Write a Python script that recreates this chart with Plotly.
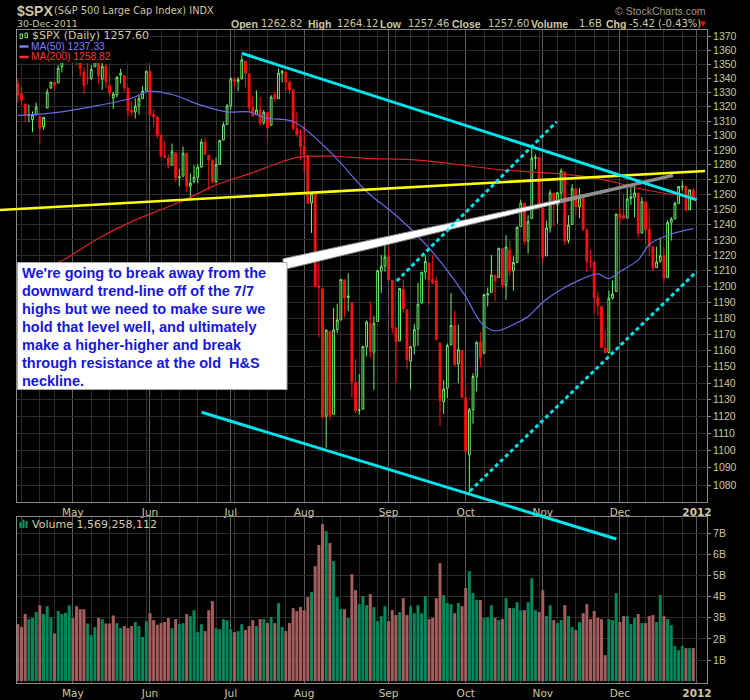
import math
from datetime import date
import plotly.graph_objects as go

# ---------------------------------------------------------------- data
trading_days = {
    "2011-04": [8, 11, 12, 13, 14, 15, 18, 19, 20, 21, 25, 26, 27, 28, 29],
    "2011-05": [2, 3, 4, 5, 6, 9, 10, 11, 12, 13, 16, 17, 18, 19, 20, 23, 24, 25, 26, 27, 31],
    "2011-06": [1, 2, 3, 6, 7, 8, 9, 10, 13, 14, 15, 16, 17, 20, 21, 22, 23, 24, 27, 28, 29, 30],
    "2011-07": [1, 5, 6, 7, 8, 11, 12, 13, 14, 15, 18, 19, 20, 21, 22, 25, 26, 27, 28, 29],
    "2011-08": [1, 2, 3, 4, 5, 8, 9, 10, 11, 12, 15, 16, 17, 18, 19, 22, 23, 24, 25, 26, 29, 30, 31],
    "2011-09": [1, 2, 6, 7, 8, 9, 12, 13, 14, 15, 16, 19, 20, 21, 22, 23, 26, 27, 28, 29, 30],
    "2011-10": [3, 4, 5, 6, 7, 10, 11, 12, 13, 14, 17, 18, 19, 20, 21, 24, 25, 26, 27, 28, 31],
    "2011-11": [1, 2, 3, 4, 7, 8, 9, 10, 11, 14, 15, 16, 17, 18, 21, 22, 23, 25, 28, 29, 30],
    "2011-12": [1, 2, 5, 6, 7, 8, 9, 12, 13, 14, 15, 16, 19, 20, 21, 22, 23, 27, 28, 29, 30],
}

open_ = [
    1336.16, 1329.01, 1321.96, 1314.03, 1311.13, 1314.54, 1313.35, 1305.99, 1319.12, 1333.23, 1337.14, 1336.75, 1348.43, 1353.86, 1360.14,
    1365.21, 1359.76, 1355.90, 1344.16, 1340.24, 1340.20, 1348.34, 1354.51, 1339.39, 1348.69, 1334.77, 1326.10, 1328.54, 1342.40, 1342.00, 1333.07, 1317.70, 1316.36, 1320.64, 1325.69, 1331.10,
    1345.20, 1314.55, 1312.94, 1300.26, 1286.31, 1284.63, 1279.63, 1288.26, 1271.31, 1272.22, 1287.87, 1265.53, 1268.58, 1271.50, 1278.40, 1295.48, 1286.60, 1283.04, 1268.44, 1280.21, 1296.85, 1307.64,
    1320.64, 1339.59, 1337.56, 1339.62, 1352.39, 1343.31, 1319.61, 1314.45, 1317.74, 1308.87, 1315.94, 1307.07, 1328.66, 1325.65, 1343.80, 1344.32, 1337.39, 1331.91, 1304.84, 1300.12,
    1292.59, 1286.56, 1254.25, 1260.23, 1200.28, 1198.48, 1120.23, 1171.77, 1121.30, 1172.87, 1178.86, 1204.22, 1192.89, 1189.62, 1140.47, 1123.55, 1124.36, 1162.16, 1176.69, 1158.85, 1177.91, 1209.76, 1213.00,
    1219.12, 1203.90, 1173.97, 1165.85, 1197.98, 1185.37, 1153.50, 1162.59, 1173.32, 1189.44, 1209.21, 1214.99, 1204.50, 1203.63, 1164.55, 1128.82, 1136.91, 1163.32, 1175.39, 1151.74, 1159.93,
    1131.21, 1097.42, 1124.03, 1144.11, 1165.03, 1158.15, 1194.60, 1196.19, 1206.96, 1205.65, 1224.47, 1200.75, 1223.46, 1209.92, 1215.39, 1238.72, 1254.19, 1229.17, 1243.97, 1284.39, 1284.96,
    1251.00, 1219.62, 1238.25, 1260.82, 1253.21, 1261.12, 1275.18, 1229.59, 1240.12, 1263.85, 1251.70, 1257.81, 1236.56, 1216.19, 1215.62, 1192.98, 1187.48, 1161.41, 1158.67, 1192.56, 1196.72,
    1246.91, 1246.03, 1244.33, 1257.19, 1258.14, 1260.87, 1234.48, 1255.05, 1236.83, 1225.73, 1212.12, 1216.09, 1219.74, 1205.72, 1241.25, 1243.72, 1254.00, 1265.02, 1265.38, 1249.75, 1262.82,
]
high_ = [
    1339.46, 1333.77, 1321.96, 1321.35, 1316.79, 1322.88, 1313.35, 1312.70, 1332.66, 1337.49, 1337.55, 1349.55, 1357.49, 1361.71, 1364.56,
    1370.58, 1360.84, 1355.90, 1348.00, 1354.36, 1349.44, 1359.44, 1354.51, 1351.05, 1350.47, 1343.33, 1330.42, 1341.82, 1346.82, 1342.00, 1333.07, 1323.72, 1325.86, 1328.51, 1334.62, 1345.20,
    1345.20, 1318.03, 1312.94, 1300.26, 1296.22, 1287.04, 1294.54, 1288.26, 1277.04, 1292.50, 1287.87, 1274.11, 1279.82, 1280.42, 1297.62, 1298.61, 1286.60, 1283.93, 1284.91, 1296.80, 1309.21, 1321.97,
    1341.01, 1340.89, 1340.94, 1356.48, 1352.39, 1343.31, 1327.17, 1331.48, 1326.88, 1317.70, 1315.94, 1328.14, 1330.43, 1347.00, 1346.10, 1344.32, 1338.51, 1331.91, 1316.32, 1304.16,
    1307.38, 1286.56, 1261.20, 1260.23, 1218.11, 1198.48, 1172.88, 1171.77, 1186.29, 1189.04, 1204.49, 1204.22, 1208.47, 1189.62, 1154.54, 1145.49, 1162.35, 1178.56, 1190.68, 1181.23, 1210.28, 1220.10, 1230.71,
    1229.29, 1203.90, 1173.97, 1198.62, 1204.40, 1185.37, 1162.52, 1176.41, 1202.38, 1209.11, 1220.06, 1214.99, 1220.39, 1206.30, 1164.55, 1141.72, 1164.19, 1195.86, 1184.71, 1175.87, 1159.93,
    1138.99, 1125.12, 1146.07, 1165.55, 1171.40, 1194.91, 1199.24, 1220.25, 1207.46, 1224.61, 1224.47, 1233.10, 1229.64, 1219.36, 1239.03, 1256.55, 1254.19, 1246.28, 1292.66, 1287.08, 1284.96,
    1251.00, 1242.48, 1263.21, 1260.82, 1261.70, 1277.55, 1275.18, 1246.22, 1266.98, 1263.85, 1264.25, 1259.61, 1237.73, 1223.51, 1215.62, 1196.81, 1187.48, 1172.66, 1197.35, 1203.67, 1247.11,
    1251.09, 1260.08, 1266.73, 1266.03, 1267.06, 1260.87, 1258.25, 1255.05, 1249.86, 1225.73, 1225.60, 1231.04, 1224.57, 1242.82, 1245.09, 1255.22, 1265.42, 1269.37, 1265.85, 1263.54, 1264.12,
]
low_ = [
    1322.94, 1321.06, 1309.51, 1309.19, 1302.42, 1313.68, 1294.70, 1303.97, 1319.12, 1332.83, 1331.47, 1336.75, 1344.25, 1353.60, 1358.69,
    1358.59, 1349.52, 1341.50, 1329.17, 1335.58, 1338.64, 1348.34, 1336.36, 1332.03, 1333.36, 1327.32, 1318.51, 1326.59, 1336.36, 1330.67, 1312.88, 1313.87, 1311.80, 1314.41, 1325.69, 1331.10,
    1313.71, 1305.61, 1297.90, 1284.72, 1284.74, 1277.42, 1279.63, 1268.28, 1265.64, 1272.22, 1261.90, 1258.07, 1267.40, 1267.56, 1278.40, 1286.79, 1262.87, 1267.24, 1267.53, 1280.21, 1296.85, 1307.61,
    1318.18, 1334.30, 1330.92, 1339.62, 1333.71, 1316.42, 1313.33, 1314.45, 1306.51, 1307.35, 1295.92, 1307.07, 1323.65, 1325.65, 1336.95, 1331.09, 1329.10, 1303.49, 1299.16, 1282.86,
    1274.73, 1254.03, 1234.56, 1199.54, 1168.09, 1119.28, 1101.54, 1118.01, 1121.30, 1170.74, 1178.86, 1180.53, 1184.36, 1131.03, 1122.05, 1121.09, 1124.36, 1156.30, 1155.47, 1135.91, 1177.91, 1195.77, 1209.35,
    1203.85, 1170.56, 1140.13, 1165.85, 1183.34, 1148.37, 1136.07, 1157.44, 1162.73, 1189.44, 1204.46, 1188.36, 1201.29, 1166.21, 1114.22, 1121.36, 1131.07, 1163.32, 1150.40, 1139.93, 1131.34,
    1098.92, 1074.77, 1115.68, 1134.95, 1150.26, 1158.15, 1187.30, 1196.19, 1190.58, 1205.65, 1198.55, 1191.48, 1206.31, 1197.34, 1215.39, 1238.72, 1226.79, 1221.06, 1243.97, 1277.01, 1253.16,
    1215.42, 1219.62, 1234.81, 1238.92, 1240.75, 1254.99, 1226.64, 1227.70, 1240.12, 1246.68, 1244.34, 1235.67, 1209.43, 1211.36, 1183.16, 1181.65, 1161.79, 1158.66, 1158.67, 1191.80, 1196.72,
    1239.73, 1243.35, 1244.33, 1253.03, 1244.80, 1231.47, 1234.48, 1227.25, 1219.43, 1209.47, 1212.12, 1215.20, 1202.37, 1205.72, 1229.51, 1243.72, 1254.00, 1262.30, 1248.64, 1249.75, 1257.46,
]
close_ = [
    1328.17, 1324.46, 1314.16, 1314.41, 1314.52, 1319.68, 1305.14, 1312.62, 1330.36, 1337.38, 1335.25, 1347.24, 1355.66, 1360.48, 1363.61,
    1361.22, 1356.62, 1347.32, 1335.10, 1340.20, 1346.29, 1357.16, 1342.08, 1348.65, 1337.77, 1329.47, 1328.98, 1340.68, 1343.60, 1333.27, 1317.37, 1316.28, 1320.47, 1325.69, 1331.10, 1345.20,
    1314.55, 1312.94, 1300.16, 1286.17, 1284.94, 1279.56, 1289.00, 1270.98, 1271.83, 1287.87, 1265.42, 1267.64, 1271.50, 1278.36, 1295.52, 1287.14, 1283.50, 1268.45, 1280.10, 1296.67, 1307.41, 1320.64,
    1339.67, 1337.88, 1339.22, 1353.22, 1343.80, 1319.49, 1313.64, 1317.72, 1308.87, 1316.14, 1305.44, 1326.73, 1325.84, 1343.80, 1345.02, 1337.43, 1331.94, 1304.89, 1300.67, 1292.28,
    1286.94, 1254.05, 1260.34, 1200.07, 1199.38, 1119.46, 1172.53, 1120.76, 1172.64, 1178.81, 1204.49, 1192.76, 1193.89, 1140.65, 1123.53, 1123.82, 1162.35, 1177.60, 1159.27, 1176.80, 1210.08, 1212.92, 1218.89,
    1204.42, 1173.97, 1165.24, 1198.62, 1185.90, 1154.23, 1162.27, 1172.87, 1188.68, 1209.11, 1216.01, 1204.09, 1202.09, 1166.76, 1129.56, 1136.43, 1162.95, 1175.38, 1151.06, 1160.40, 1131.42,
    1099.23, 1123.95, 1144.03, 1164.97, 1155.46, 1194.89, 1195.54, 1207.25, 1203.66, 1224.58, 1200.86, 1225.38, 1209.88, 1215.39, 1238.25, 1254.19, 1229.05, 1242.00, 1284.59, 1285.09, 1253.30,
    1218.28, 1237.90, 1261.15, 1253.23, 1261.12, 1275.92, 1229.10, 1239.70, 1263.85, 1251.78, 1257.81, 1236.91, 1216.13, 1215.65, 1192.98, 1188.04, 1161.79, 1158.67, 1192.55, 1195.19, 1246.96,
    1244.58, 1244.28, 1257.08, 1258.47, 1261.01, 1234.35, 1255.19, 1236.47, 1225.73, 1211.82, 1215.75, 1219.66, 1205.35, 1241.30, 1243.72, 1254.00, 1265.33, 1265.43, 1249.64, 1263.02, 1257.60,
]
prev_close_before_start = 1333.51

volume_bn = [
    2.70, 2.57, 3.18, 2.94, 2.99, 3.27, 3.59, 3.18, 3.55, 3.02, 2.26, 3.32, 3.18, 3.24, 3.59,
    2.99, 3.55, 3.41, 3.41, 2.73, 2.18, 2.56, 2.99, 2.94, 2.73, 2.73, 3.11, 2.75, 2.51, 2.61, 2.51, 2.61, 2.80, 2.61, 2.09, 2.84,
    3.22, 2.89, 2.67, 2.75, 2.80, 2.99, 2.51, 2.94, 2.70, 2.75, 3.18, 3.08, 3.36, 2.32, 2.70, 2.37, 3.36, 3.79, 2.51, 2.46, 2.94, 2.89,
    2.46, 2.32, 2.37, 2.70, 2.42, 2.61, 2.89, 2.61, 2.94, 2.94, 2.75, 3.03, 2.75, 3.70, 2.56, 2.37, 2.75, 3.46, 3.32, 3.51,
    3.36, 3.98, 4.22, 5.45, 6.45, 7.44, 7.11, 6.54, 5.69, 3.98, 3.41, 3.41, 2.99, 5.07, 4.31, 3.65, 4.03, 3.60, 4.12, 3.51, 2.84, 3.08, 3.55,
    2.84, 3.36, 3.13, 3.27, 3.93, 3.13, 3.55, 3.22, 3.60, 3.22, 4.03, 2.94, 2.99, 3.93, 5.59, 4.08, 3.70, 3.65, 3.22, 3.70, 3.55,
    4.41, 5.21, 4.17, 3.84, 3.84, 2.99, 3.03, 3.60, 2.99, 2.89, 2.94, 3.93, 3.46, 3.46, 3.74, 3.36, 3.36, 3.74, 4.88, 3.36, 3.27,
    4.31, 3.08, 3.60, 2.89, 2.75, 2.89, 3.60, 3.08, 2.56, 2.42, 2.80, 3.22, 3.65, 2.94, 3.32, 2.99, 2.94, 1.23, 2.94, 2.89, 4.17,
    2.80, 3.08, 3.08, 2.70, 2.99, 3.18, 2.75, 2.75, 3.08, 3.13, 2.80, 4.08, 3.08, 2.94, 2.65, 1.66, 1.47, 1.66, 1.56, 1.56, 1.57,
]

# moving averages (day index, value)
ma50_idx = [0, 9, 22, 31, 36, 42, 50, 57, 63, 68, 75, 85, 95, 104, 113, 122, 126, 130, 135, 139, 143, 148, 153, 158, 161, 164, 169, 172, 177, 184]
ma50_val = [1314, 1315.5, 1321, 1326, 1331, 1328.6, 1321, 1316.4, 1316.4, 1312, 1309.7, 1289, 1262, 1244, 1222, 1193.5, 1177.7, 1172, 1176, 1181, 1190, 1198, 1204, 1208, 1205, 1209.5, 1217, 1227, 1233, 1237.33]
ma200_idx = [0, 11, 22, 31, 41, 46, 54, 63, 72, 77, 86, 95, 109, 122, 131, 140, 150, 157, 163, 168, 177, 184]
ma200_val = [1210, 1215.5, 1231.1, 1242, 1251.8, 1256.9, 1266.4, 1273.8, 1282.1, 1285.4, 1285.8, 1284.4, 1283.2, 1279.5, 1276.7, 1275.2, 1273.4, 1271.1, 1268, 1264.7, 1260.5, 1258.82]

month_names = {"2011-05": "May", "2011-06": "Jun", "2011-07": "Jul", "2011-08": "Aug",
               "2011-09": "Sep", "2011-10": "Oct", "2011-11": "Nov", "2011-12": "Dec"}
next_year_label = "2012"
price_ticks = list(range(1080, 1371, 10))
volume_ticks = [1, 2, 3, 4, 5, 6, 7]

# analyst drawings, in (day index, price)
trend_down = ([60.98, 184.93], [1358.0, 1256.4])
channel_low = ([50.09, 163.03], [1122.5, 1049.5])
dotted_upper = ([103.21, 146.79], [1203.5, 1309.6])
dotted_lower = ([123.17, 184.93], [1076.6, 1209.6])
neckline = ([-4.86, 187.2], [1249.7, 1275.8])
callout_wedge = ([72.23, 178.47, 72.23, 72.23], [1217.8, 1272.8, 1210.6, 1217.8])
callout_tip = ([147.69, 178.47], [1255.2, 1272.8])

note_lines = [
    "We're going to break away from the",
    "downward trend-line off of the 7/7",
    "highs but we need to make sure we",
    "hold that level well, and ultimately",
    "make a higher-higher and break",
    "through resistance at the old  H&S",
    "neckline.",
]

# ---------------------------------------------------------------- layout constants
W, H = 750, 700
DAY0_PX, DAY_PX = 17.83, 3.671          # pixel centre of day 0, pixels per day
PREF, PREF_PX, PX_DEC = 1370.0, 36.7, 4340.4   # price 1370 at y=36.7, px per decade
PLOT_L, PLOT_R = 17, 707
P_TOP, P_BOT = 30, 502
V_TOP, V_BOT = 517, 683
V_ZERO_PX, V_PX_PER_B = 681.1, 21.1

KHAKI = "#CCC7A2"
GRID = "#2c2c2c"
MGRID = "#5e5e5e"
BORDER = "#8a8a8a"
UP_C = "#6CF06C"
DN_C = "#FF1010"
VOL_UP = "#00875C"
VOL_DN = "#A45E5E"
CYAN = "#00E4EE"


def px(x):
    return x / W


def py(y):
    return 1 - y / H


def xr(p):
    return (p - DAY0_PX) / DAY_PX


def yr(p):
    return math.log10(PREF) - (p - PREF_PX) / PX_DEC


dates = [f"{m}-{d:02d}" for m, ds in trading_days.items() for d in ds]
n = len(dates)
assert n == len(open_) == len(high_) == len(low_) == len(close_) == len(volume_bn) == 185
idx = list(range(n))

month_idx, month_txt, week_idx = [], [], []
prev_m, prev_w = None, None
for i, ds in enumerate(dates):
    m = ds[:7]
    wk = date.fromisoformat(ds).isocalendar()[1]
    if m != prev_m and m in month_names:
        month_idx.append(i)
        month_txt.append(month_names[m])
    if wk != prev_w:
        week_idx.append(i)
    prev_m, prev_w = m, wk
month_idx.append(n)
month_txt.append("<b>" + next_year_label + "</b>")

prev_closes = [prev_close_before_start] + close_[:-1]
vol_colors = [VOL_UP if c >= p else VOL_DN for c, p in zip(close_, prev_closes)]

fig = go.Figure()
fig.add_trace(go.Candlestick(
    x=idx, open=open_, high=high_, low=low_, close=close_,
    increasing=dict(line=dict(color=UP_C, width=1), fillcolor="black"),
    decreasing=dict(line=dict(color=DN_C, width=1), fillcolor=DN_C),
    whiskerwidth=0, xaxis="x", yaxis="y", hoverinfo="skip", showlegend=False))
fig.add_trace(go.Scatter(x=ma200_idx, y=ma200_val, mode="lines", xaxis="x", yaxis="y",
                         line=dict(color="#DD2222", width=1.2, shape="spline"), hoverinfo="skip"))
fig.add_trace(go.Scatter(x=ma50_idx, y=ma50_val, mode="lines", xaxis="x", yaxis="y",
                         line=dict(color="#6A6AE0", width=1.2, shape="spline"), hoverinfo="skip"))
fig.add_trace(go.Bar(x=idx, y=volume_bn, marker=dict(color=vol_colors, line=dict(width=0)),
                     xaxis="x2", yaxis="y2", hoverinfo="skip"))

# drawings on a full-page overlay axis with the same scale as the price panel
fig.add_trace(go.Scatter(x=callout_wedge[0], y=callout_wedge[1], mode="lines", fill="toself",
                         fillcolor="white", line=dict(color="#8c8c8c", width=1),
                         xaxis="x3", yaxis="y3", hoverinfo="skip"))
fig.add_trace(go.Scatter(x=callout_tip[0], y=callout_tip[1], mode="lines",
                         line=dict(color="#8e8e8e", width=3.5), xaxis="x3", yaxis="y3", hoverinfo="skip"))
fig.add_trace(go.Scatter(x=neckline[0], y=neckline[1], mode="lines",
                         line=dict(color="#FFFF10", width=2.6), xaxis="x3", yaxis="y3", hoverinfo="skip"))
for seg, dash in [(trend_down, "solid"), (channel_low, "solid"),
                  (dotted_upper, "4px,3px"), (dotted_lower, "4px,3px")]:
    fig.add_trace(go.Scatter(x=seg[0], y=seg[1], mode="lines",
                             line=dict(color=CYAN, width=3, dash=dash),
                             xaxis="x3", yaxis="y3", hoverinfo="skip"))

tickfont_x = dict(family="DejaVu Sans", size=10.5, color=KHAKI)
tickfont_y = dict(family="Liberation Sans, Arial", size=10.5, color=KHAKI)
xcommon = dict(domain=[px(PLOT_L), px(PLOT_R)], range=[xr(PLOT_L), xr(PLOT_R)],
               tickmode="array", tickvals=month_idx, ticktext=month_txt,
               showgrid=True, gridcolor=MGRID, gridwidth=1,
               minor=dict(tickmode="array", tickvals=week_idx, showgrid=True, gridcolor=GRID),
               showline=True, linecolor=BORDER, mirror=True, ticks="", zeroline=False,
               tickfont=tickfont_x, fixedrange=True, automargin=False)

annotations = []


def txt(x, y, s, size, color, family="DejaVu Sans", xanchor="left"):
    annotations.append(dict(x=px(x), y=py(y), xref="paper", yref="paper", text=s,
                            showarrow=False, xanchor=xanchor, yanchor="middle", align="left",
                            borderpad=0, font=dict(family=family, size=size, color=color)))


BOLD = "Liberation Sans, Arial"
txt(15.5, 10.5, "<b>$SPX</b>", 14, KHAKI, BOLD)
txt(52.5, 11, "(S&P 500 Large Cap Index) INDX", 9.8, KHAKI)
txt(707, 11, "© StockCharts.com", 10.5, "#9C9882", BOLD, xanchor="right")
txt(16, 23.5, "30-Dec-2011", 9.4, KHAKI)
header = [("Open", 229.7, True), ("1262.82", 259.5, False), ("High", 306.5, True), ("1264.12", 335.5, False),
          ("Low", 378.5, True), ("1257.46", 407, False), ("Close", 451, True), ("1257.60", 487, False),
          ("Volume", 529.5, True), ("1.6B", 577.5, False), ("Chg", 605, True), ("-5.42 (-0.43%)", 627.5, False)]
for s, x, b in header:
    if b:
        txt(x, 23.5, "<b>" + s + "</b>", 10.5, KHAKI, BOLD)
    else:
        txt(x, 23.8, s, 10, KHAKI)
txt(703, 23.5, "▼", 7, "#FF0000", xanchor="center")

txt(31, 36, "$SPX (Daily) 1257.60", 11, "#D2CDA8")
txt(29.5, 46.5, "MA(50) 1237.33", 10.3, "#7E7EFF", BOLD)
txt(29.5, 57, "MA(200) 1258.82", 10.3, "#FF3434", BOLD)
txt(31, 524.5, "Volume 1,569,258,112", 11, "#D2CDA8")

for k, line in enumerate(note_lines):
    txt(21.2, 273.3 + 17.9 * k, "<b>" + line + "</b>", 14.5, "#1616DD", BOLD)

shapes = [
    # legend backdrop
    dict(type="rect", xref="paper", yref="paper", x0=px(17.6), x1=px(150), y0=py(63), y1=py(30.6),
         fillcolor="black", line=dict(width=0), layer="above"),
    # legend icons
    dict(type="line", xref="paper", yref="paper", x0=px(19.5), x1=px(28.5), y0=py(46.5), y1=py(46.5),
         line=dict(color="#7E7EFF", width=2.5), layer="above"),
    dict(type="line", xref="paper", yref="paper", x0=px(19.5), x1=px(28.5), y0=py(57), y1=py(57),
         line=dict(color="#FF3434", width=2.5), layer="above"),
    dict(type="rect", xref="paper", yref="paper", x0=px(20), x1=px(22.5), y0=py(38.5), y1=py(34),
         line=dict(color=UP_C, width=1), layer="above"),
    dict(type="rect", xref="paper", yref="paper", x0=px(25), x1=px(27.5), y0=py(37.5), y1=py(33),
         line=dict(color=UP_C, width=1), layer="above"),
    dict(type="rect", xref="paper", yref="paper", x0=px(19.5), x1=px(21.5), y0=py(528), y1=py(522),
         fillcolor="#00A070", line=dict(width=0), layer="above"),
    dict(type="rect", xref="paper", yref="paper", x0=px(22.5), x1=px(24.5), y0=py(528), y1=py(519.5),
         fillcolor="#00A070", line=dict(width=0), layer="above"),
    dict(type="rect", xref="paper", yref="paper", x0=px(25.5), x1=px(27.5), y0=py(528), y1=py(521),
         fillcolor="#00A070", line=dict(width=0), layer="above"),
    # callout box
    dict(type="rect", xref="paper", yref="paper", x0=px(17.5), x1=px(287), y0=py(389.5), y1=py(262.5),
         fillcolor="white", line=dict(color="#A8A8A8", width=1), layer="above"),
]

fig.update_layout(
    template="none",
    width=W, height=H, margin=dict(l=0, r=0, t=0, b=0, pad=0),
    paper_bgcolor="black", plot_bgcolor="rgba(0,0,0,0)",
    showlegend=False, hovermode=False, bargap=0.18,
    xaxis=dict(xcommon, anchor="y", rangeslider=dict(visible=False)),
    xaxis2=dict(xcommon, anchor="y2"),
    yaxis=dict(domain=[py(P_BOT), py(P_TOP)], type="log", range=[yr(P_BOT), yr(P_TOP)],
               side="right", anchor="x", tickmode="array", tickvals=price_ticks,
               ticktext=[str(v) for v in price_ticks], showgrid=True, gridcolor=GRID,
               showline=True, linecolor=BORDER, mirror=True, ticks="outside", ticklen=3,
               tickcolor=BORDER, zeroline=False, tickfont=tickfont_y, fixedrange=True, automargin=False),
    yaxis2=dict(domain=[py(V_BOT), py(V_TOP)],
                range=[-(V_BOT - V_ZERO_PX) / V_PX_PER_B, (V_ZERO_PX - V_TOP) / V_PX_PER_B],
                side="right", anchor="x2", tickmode="array", tickvals=volume_ticks,
                ticktext=[f"{v}B" for v in volume_ticks], showgrid=True, gridcolor=GRID,
                showline=True, linecolor=BORDER, mirror=True, ticks="outside", ticklen=3,
                tickcolor=BORDER, zeroline=False, tickfont=tickfont_y, fixedrange=True, automargin=False),
    xaxis3=dict(domain=[0, 1], range=[xr(0), xr(W)], anchor="y3", visible=False, fixedrange=True),
    yaxis3=dict(domain=[0, 1], type="log", range=[yr(H), yr(0)], anchor="x3", visible=False, fixedrange=True),
    annotations=annotations, shapes=shapes,
)

fig.write_html("out.html")
